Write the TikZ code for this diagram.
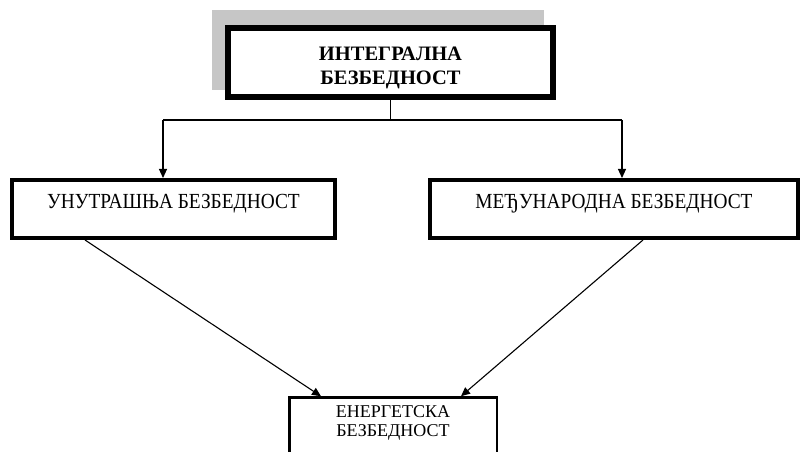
\documentclass[tikz,border=0pt]{standalone}
\usepackage{fontspec}
\setmainfont{Liberation Serif}
\newfontfamily\narrowserif[FakeStretch=0.9]{Liberation Serif}
\usetikzlibrary{arrows.meta,backgrounds}
\begin{document}
\begin{tikzpicture}[x=1pt,y=1pt,
    box/.style={draw,fill=white,inner sep=0pt,font=\narrowserif\fontsize{21.5}{24}\selectfont},
    arr/.style={-{Triangle[length=9pt,width=8pt]},line width=1.1pt}]
            \useasboundingbox (0,0) rectangle (803,452);
            \node[box,line width=6pt,minimum width=325pt,minimum height=69pt,align=center,
              font=\rmfamily\fontsize{20.5}{24}\bfseries] (top) at (390.5,389.5) {\rule{0pt}{24pt}ИНТЕГРАЛНА\\БЕЗБЕДНОСТ};
            \begin{scope}[on background layer]
              \fill[gray!45] ([xshift=-13pt,yshift=15pt]top.north west) rectangle ([xshift=-12pt,yshift=10pt]top.south east);
            \end{scope}
            \node[box,line width=4pt,minimum width=323pt,minimum height=58pt,text height=15pt,text depth=15pt] (inner) at (173.5,243) {УНУТРАШЊА БЕЗБЕДНОСТ};
            \node[box,line width=4pt,minimum width=368pt,minimum height=58pt,text height=15pt,text depth=15pt] (intl) at (614,243) {МЕЂУНАРОДНА БЕЗБЕДНОСТ};
            \node[box,line width=2.5pt,minimum width=207.5pt,anchor=north,inner sep=8pt,align=center,
              text depth=60pt,font=\rmfamily\fontsize{18}{19.5}\selectfont] (energy) at (393,55.75) {ЕНЕРГЕТСКА\\БЕЗБЕДНОСТ};
            \coordinate (jl) at (163,332);
            \coordinate (jr) at (622,332);
            \draw[line width=1.1pt] (top.south) -- (top.south |- jl);
            \draw[line width=1.1pt] (jl) -- (jr);
            \draw[arr] (jl) -- (jl |- inner.north);
            \draw[arr] (jr) -- (jr |- intl.north);
            \draw[arr] ([xshift=75pt]inner.south west) -- ([xshift=33pt]energy.north west);
            \draw[arr] ([xshift=215pt]intl.south west) -- ([xshift=-37pt]energy.north east);
          \end{tikzpicture}
\end{document}
